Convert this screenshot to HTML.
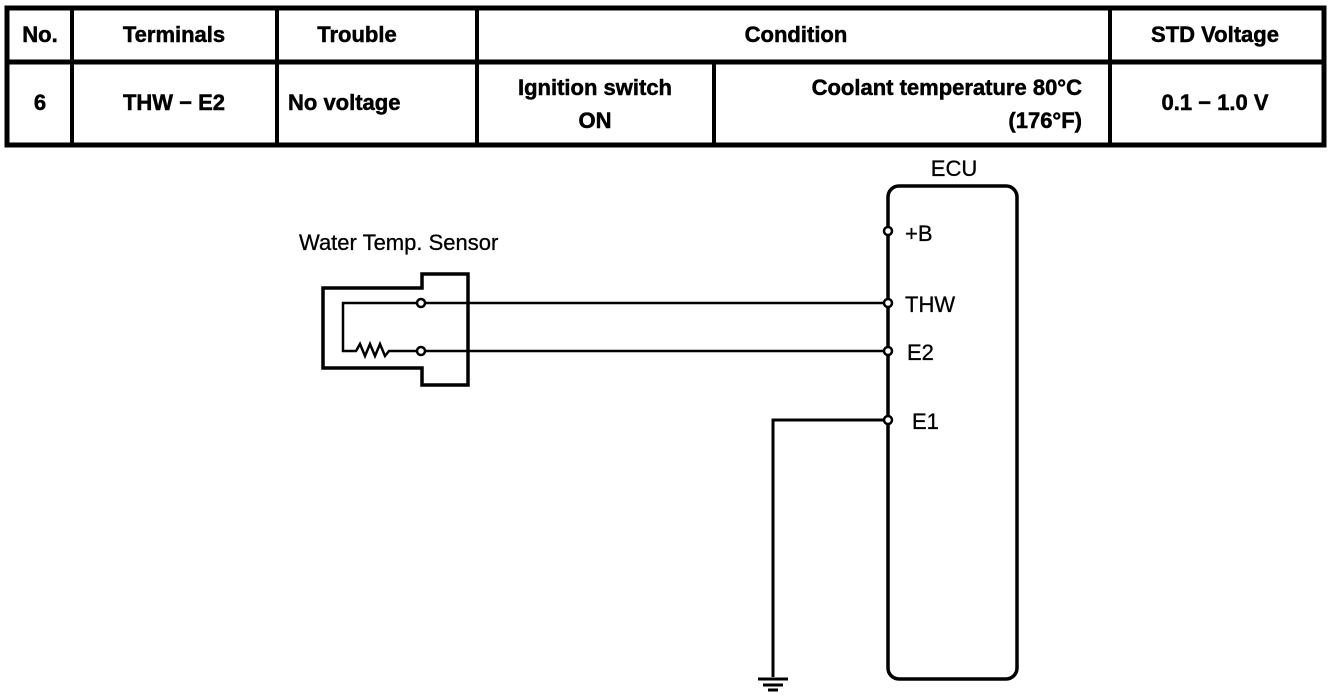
<!DOCTYPE html>
<html><head><meta charset="utf-8"><style>
html,body{margin:0;padding:0;background:#fff;}
svg{display:block;}
.b{font-family:"Liberation Sans",Arial,sans-serif;font-weight:bold;font-size:22px;fill:#000;stroke:#000;stroke-width:0.5px;}
.r{font-family:"Liberation Sans",Arial,sans-serif;font-size:22px;fill:#000;stroke:#000;stroke-width:0.3px;}
</style></head><body>
<svg width="1344" height="698" viewBox="0 0 1344 698" xmlns="http://www.w3.org/2000/svg">
<g stroke="#000" fill="none">
<rect x="7" y="8" width="1317" height="137" stroke-width="5"/>
<line x1="5" y1="62" x2="1326" y2="62" stroke-width="5"/>
<line x1="72" y1="8" x2="72" y2="145" stroke-width="4"/>
<line x1="277" y1="8" x2="277" y2="145" stroke-width="4"/>
<line x1="477" y1="8" x2="477" y2="145" stroke-width="4"/>
<line x1="714" y1="62" x2="714" y2="145" stroke-width="4"/>
<line x1="1110" y1="8" x2="1110" y2="145" stroke-width="4"/>
</g>
<text class="b" x="40" y="42" text-anchor="middle">No.</text>
<text class="b" x="174" y="42" text-anchor="middle">Terminals</text>
<text class="b" x="357" y="42" text-anchor="middle">Trouble</text>
<text class="b" x="796" y="42" text-anchor="middle">Condition</text>
<text class="b" x="1215" y="42" text-anchor="middle">STD Voltage</text>
<text class="b" x="40" y="110" text-anchor="middle">6</text>
<text class="b" x="174" y="110" text-anchor="middle">THW − E2</text>
<text class="b" x="288" y="110">No voltage</text>
<text class="b" x="595" y="95" text-anchor="middle">Ignition switch</text>
<text class="b" x="595" y="128" text-anchor="middle">ON</text>
<text class="b" x="1082" y="95" text-anchor="end">Coolant temperature 80°C</text>
<text class="b" x="1082" y="128" text-anchor="end">(176°F)</text>
<text class="b" x="1215" y="110" text-anchor="middle">0.1 − 1.0 V</text>

<g stroke="#000" fill="none" stroke-width="3.5">
<rect x="888" y="186" width="129" height="493" rx="11"/>
<path d="M323,288 H422 V274 H468 V385 H422 V368 H323 Z"/>
</g>
<g stroke="#000" fill="none" stroke-width="2.5">
<path d="M425,303 H884"/>
<path d="M425,351 H884"/>
<path d="M417,303 H343 V351 H356 l4,-7 l5,12 l5,-12 l5,12 l5,-12 l5,12 l4,-5 H417"/>
<path d="M884,420 H773 V677" stroke-width="3"/>
</g>
<g stroke="#000" stroke-width="3">
<line x1="758" y1="679" x2="788" y2="679"/>
<line x1="763" y1="685" x2="783" y2="685"/>
<line x1="768" y1="690" x2="778" y2="690"/>
</g>
<g stroke="#000" fill="#fff" stroke-width="2.5">
<circle cx="421" cy="303" r="4"/>
<circle cx="421" cy="351" r="4"/>
<circle cx="888" cy="231" r="4"/>
<circle cx="888" cy="303" r="4"/>
<circle cx="888" cy="351" r="4"/>
<circle cx="888" cy="420" r="4"/>
</g>
<text class="r" x="954" y="176" text-anchor="middle">ECU</text>
<text class="r" x="905" y="241">+B</text>
<text class="r" x="905" y="312">THW</text>
<text class="r" x="907" y="360">E2</text>
<text class="r" x="912" y="429">E1</text>
<text class="r" x="299" y="250">Water Temp. Sensor</text>
</svg>
</body></html>
